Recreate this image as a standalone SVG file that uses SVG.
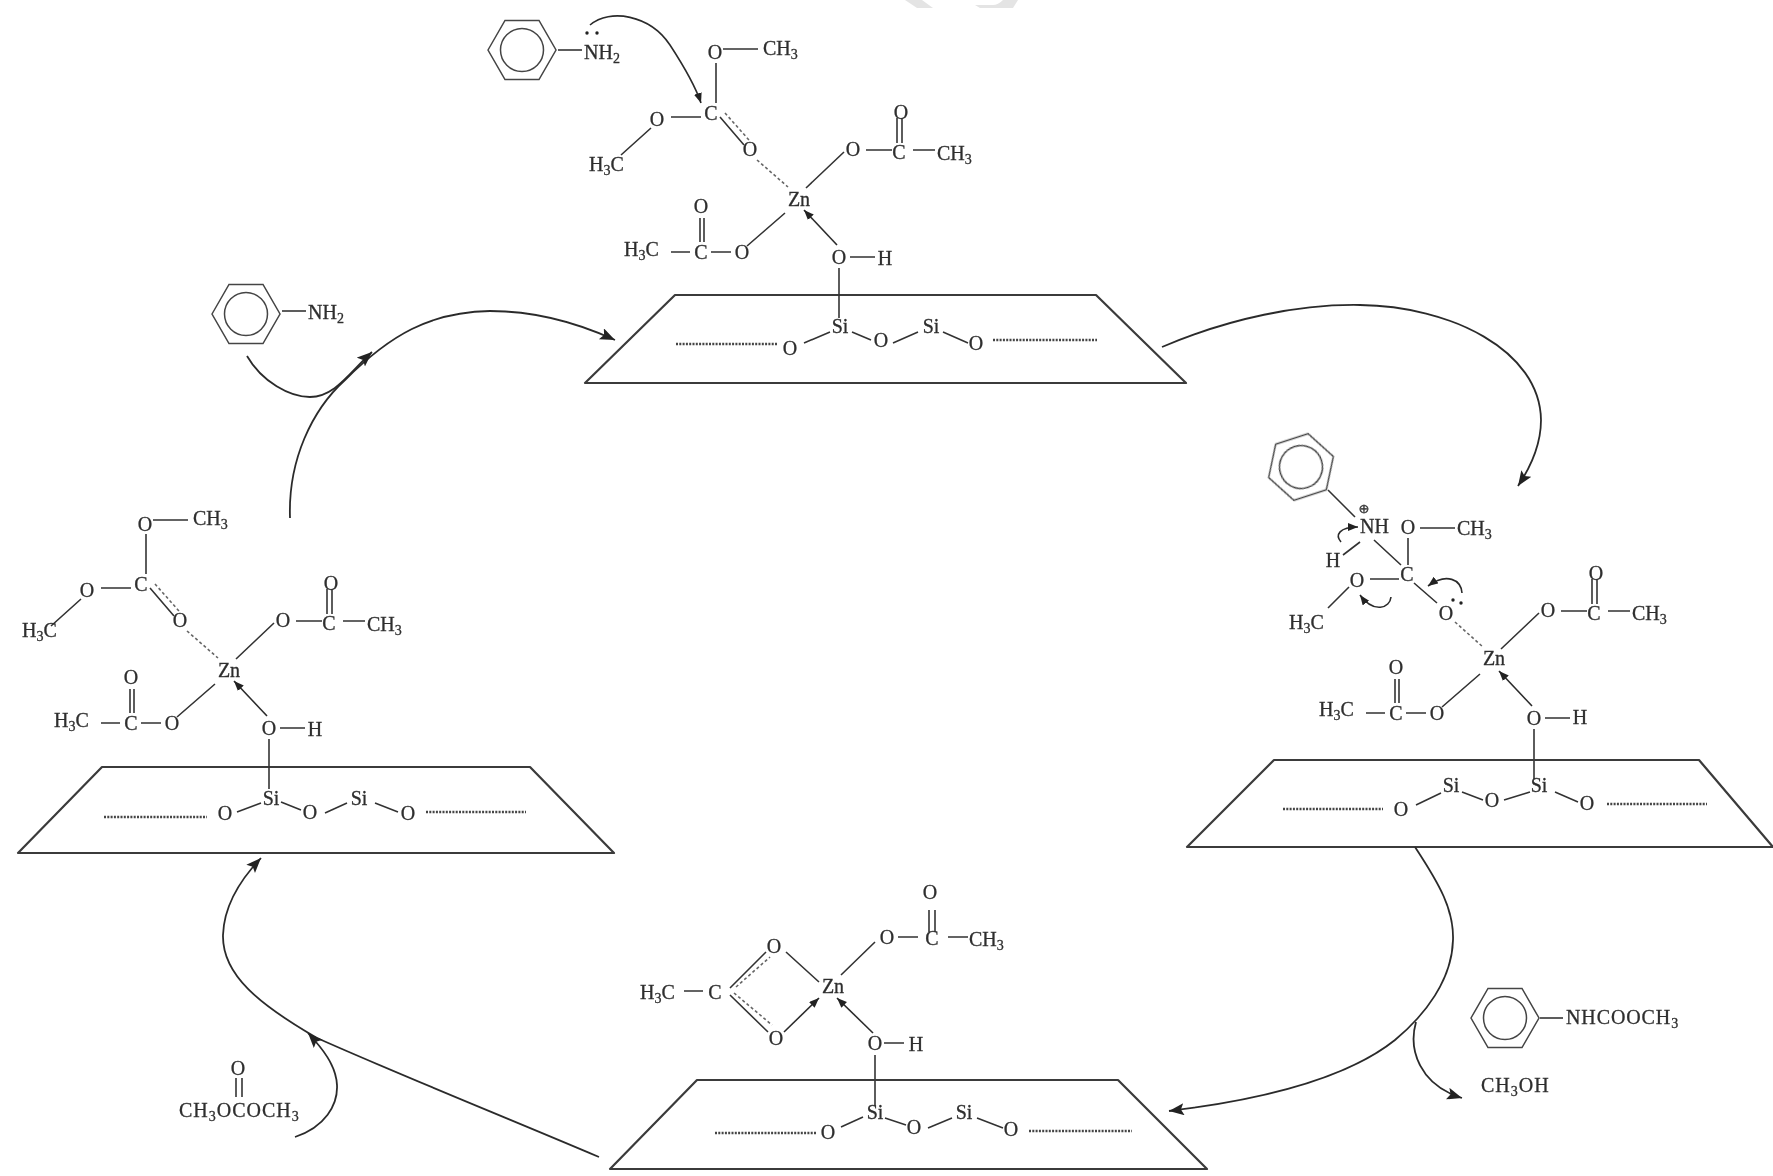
<svg xmlns="http://www.w3.org/2000/svg" width="1773" height="1176" viewBox="0 0 1773 1176">
<style>
text{font-family:"Liberation Serif","Times New Roman",serif;font-size:20px;fill:#2e2e2e;stroke:#2e2e2e;stroke-width:0.3;text-anchor:middle}
text.l{text-anchor:start}
.s{font-size:14px}
.b{fill:none;stroke:#333;stroke-width:1.6}
.d{fill:none;stroke:#666;stroke-width:1.6;stroke-dasharray:3 2.5}
.dots{fill:none;stroke:#444;stroke-width:2.5;stroke-dasharray:2 1.3}
.slab{fill:none;stroke:#3a3a3a;stroke-width:2.2;stroke-linejoin:round}
.ring{fill:none;stroke:#444;stroke-width:1.5}
.arrow{fill:none;stroke:#2c2c2c;stroke-width:1.8;marker-end:url(#big)}
.small{fill:none;stroke:#2c2c2c;stroke-width:1.6;marker-end:url(#tiny)}
</style>
<defs>
<filter id="soft" x="0" y="0" width="100%" height="100%" filterUnits="userSpaceOnUse"><feGaussianBlur stdDeviation="0.7"/></filter>
<marker id="big" markerUnits="userSpaceOnUse" markerWidth="18" markerHeight="14" refX="15" refY="6" orient="auto"><path d="M0 0L15 6L0 12L3 6Z" fill="#222"/></marker>
<marker id="tiny" markerUnits="userSpaceOnUse" markerWidth="12" markerHeight="10" refX="10" refY="4" orient="auto"><path d="M0 0L10 4L0 8Z" fill="#222"/></marker>
<path id="core" class="b" d="M7 -11L45 -47M67 -49H93M98 -81V-56M103 -81V-56M114 -49H136M-14 14L-52 47M-88 53H-68M-99 19V43M-95 19V43M-128 53H-109M51 58H76M40 69V119"/>
<path id="zna" class="small" d="M38 46L5 11"/>
<path id="carb" class="b" d="M-76 -150H-41M-83 -136V-96M-128 -82H-98M-148 -71L-178 -44M-79 -82L-55 -54"/>
<path id="carbd" class="d" d="M-74 -86L-50 -59M-42 -39L-11 -12"/>
<path id="hex" class="ring" d="M-34 0L-17 -29.500H17L34 0L17 29.500H-17Z"/>
<circle id="inner" class="ring" r="21.500"/>
</defs>
<rect width="1773" height="1176" fill="#fff"/>
<g filter="url(#soft)">
<g id="watermark" fill="#e4e4e4"><path d="M905 0L917 8H933L922 0Z"/><path d="M975 5L980 8H1013L1018 0H1003Q998 5 993 5Z"/></g>

<g id="node-top">
<g id="aniline-top" transform="translate(522 50)"><use href="#hex"/><use href="#inner"/></g>
<path class="b" d="M558 50H582"/>
<text class="l" x="584" y="59">NH<tspan class="s" dy="4">2</tspan></text>
<circle cx="587" cy="33" r="1.700" fill="#222"/><circle cx="597" cy="33" r="1.700" fill="#222"/>
<path class="small" d="M590 25C610 8 650 15 670 45C685 68 695 85 701 103"/>
<polygon class="slab" points="675,295 1096,295 1186,383 585,383"/>
<g transform="translate(799 199)">
<use href="#core"/><use href="#zna"/><use href="#carb"/><use href="#carbd"/>
<text x="0" y="7">Zn</text><text x="54" y="-43.500">O</text><text x="100" y="-40.500">C</text><text x="102" y="-80.500">O</text><text class="l" x="138" y="-39">CH<tspan class="s" dy="4">3</tspan></text>
<text x="-57" y="59.500">O</text><text x="-98" y="59.500">C</text><text x="-98" y="13.500">O</text><text class="l" x="-175" y="57">H<tspan class="s" dy="4">3</tspan><tspan dy="-4">C</tspan></text>
<text x="40" y="64.500">O</text><text x="86" y="66">H</text>
<text x="-84" y="-140.500">O</text><text class="l" x="-36" y="-144">CH<tspan class="s" dy="4">3</tspan></text><text x="-88" y="-79.500">C</text><text x="-142" y="-73.500">O</text><text class="l" x="-210" y="-28">H<tspan class="s" dy="4">3</tspan><tspan dy="-4">C</tspan></text><text x="-49" y="-43.500">O</text>
</g>
<path class="dots" d="M676 344H777M993 340H1097"/>
<path class="b" d="M804 343L830 332M852 332L871 340M893 343L918 332M943 332L968 343"/>
<text x="790" y="355">O</text><text x="840" y="333">Si</text><text x="881" y="346.500">O</text><text x="931" y="333">Si</text><text x="976" y="349.500">O</text>
</g>

<g id="node-right">
<g transform="translate(1301 467) rotate(-18)"><use href="#hex"/><use href="#inner"/></g>
<path class="b" d="M1328 490L1355 517M1420 528H1455M1408 538V565M1374 540L1401 565M1360 542L1343 555M1370 579H1399M1349 587L1328 608M1414 583L1437 603"/>
<text style="font-family:'DejaVu Sans',sans-serif;font-size:13px" x="1364" y="513">⊕</text>
<text class="l" x="1360" y="533">NH</text><text x="1408" y="534">O</text><text class="l" x="1457" y="535">CH<tspan class="s" dy="4">3</tspan></text>
<text x="1333" y="567">H</text><text x="1407" y="580.500">C</text><text x="1357" y="586.500">O</text><text class="l" x="1289" y="629">H<tspan class="s" dy="4">3</tspan><tspan dy="-4">C</tspan></text><text x="1446" y="619.500">O</text>
<circle cx="1453" cy="600" r="1.700" fill="#222"/><circle cx="1461" cy="603" r="1.700" fill="#222"/>
<path class="d" d="M1455 622L1483 647"/>
<path class="small" d="M1341 542C1335 535 1339 527 1358 527"/>
<path class="small" d="M1462 593C1461 580 1447 572 1428 586"/>
<path class="small" d="M1391 597C1390 608 1374 614 1360 595"/>
<g transform="translate(1494 660)">
<use href="#core"/><use href="#zna"/>
<text x="0" y="5">Zn</text><text x="54" y="-43.500">O</text><text x="100" y="-40.500">C</text><text x="102" y="-80.500">O</text><text class="l" x="138" y="-40">CH<tspan class="s" dy="4">3</tspan></text>
<text x="-57" y="59.500">O</text><text x="-98" y="59.500">C</text><text x="-98" y="13.500">O</text><text class="l" x="-175" y="56">H<tspan class="s" dy="4">3</tspan><tspan dy="-4">C</tspan></text>
<text x="40" y="64.500">O</text><text x="86" y="64">H</text>
</g>
<polygon class="slab" points="1274,760 1699,760 1773,847 1187,847"/>
<path class="dots" d="M1283 809H1383M1607 804H1707"/>
<path class="b" d="M1416 805L1441 793M1462 792L1483 800M1504 800L1530 792M1555 792L1578 802"/>
<text x="1401" y="815.500">O</text><text x="1451" y="792">Si</text><text x="1492" y="806.500">O</text><text x="1539" y="792">Si</text><text x="1587" y="809.500">O</text>
</g>

<g id="node-bottom">
<path class="b" d="M841 975L875 942M898 937H918M929 910V932M935 910V932M948 937H968M684 991H703M730 988L766 952M730 995L768 1032M786 952L819 982M884 1043H904M875 1055V1106"/>
<path class="d" d="M736 987L770 957M734 993L772 1025"/>
<path class="small" d="M784 1032L819 998"/><path class="small" d="M873 1033L837 998"/>
<text x="833" y="993">Zn</text><text x="887" y="943.500">O</text><text x="932" y="944.500">C</text><text x="930" y="898.500">O</text><text class="l" x="969" y="946">CH<tspan class="s" dy="4">3</tspan></text>
<text class="l" x="640" y="999">H<tspan class="s" dy="4">3</tspan><tspan dy="-4">C</tspan></text><text x="715" y="998.500">C</text><text x="774" y="952.500">O</text><text x="776" y="1044.500">O</text>
<text x="875" y="1049.500">O</text><text x="916" y="1051">H</text>
<polygon class="slab" points="697,1080 1118,1080 1207,1169 610,1169"/>
<path class="dots" d="M715 1133H817M1029 1131H1132"/>
<path class="b" d="M841 1127L863 1117M885 1118L906 1125M928 1128L952 1118M977 1118L1003 1128"/>
<text x="828" y="1138.500">O</text><text x="875" y="1119">Si</text><text x="914" y="1133.500">O</text><text x="964" y="1119">Si</text><text x="1011" y="1135.500">O</text>
</g>

<g id="node-left">
<polygon class="slab" points="102,767 530,767 614,853 18,853"/>
<g transform="translate(229 670)">
<use href="#core"/><use href="#zna"/><use href="#carb"/><use href="#carbd"/>
<text x="0" y="7">Zn</text><text x="54" y="-43.500">O</text><text x="100" y="-40.500">C</text><text x="102" y="-80.500">O</text><text class="l" x="138" y="-39">CH<tspan class="s" dy="4">3</tspan></text>
<text x="-57" y="59.500">O</text><text x="-98" y="59.500">C</text><text x="-98" y="13.500">O</text><text class="l" x="-175" y="57">H<tspan class="s" dy="4">3</tspan><tspan dy="-4">C</tspan></text>
<text x="40" y="64.500">O</text><text x="86" y="66">H</text>
<text x="-84" y="-139.500">O</text><text class="l" x="-36" y="-145">CH<tspan class="s" dy="4">3</tspan></text><text x="-88" y="-79.500">C</text><text x="-142" y="-73.500">O</text><text class="l" x="-207" y="-33">H<tspan class="s" dy="4">3</tspan><tspan dy="-4">C</tspan></text><text x="-49" y="-43.500">O</text>
</g>
<path class="dots" d="M104 817H207M426 812H526"/>
<path class="b" d="M237 812L261 803M281 802L301 810M325 813L347 803M375 803L398 812"/>
<text x="225" y="819.500">O</text><text x="271" y="805">Si</text><text x="310" y="818.500">O</text><text x="359" y="805">Si</text><text x="408" y="819.500">O</text>
</g>

<g id="node-aniline">
<g transform="translate(246 314)"><use href="#hex"/><use href="#inner"/></g>
<path class="b" d="M282 311H306"/>
<text class="l" x="308" y="319">NH<tspan class="s" dy="4">2</tspan></text>
</g>

<g id="node-carbamate">
<g transform="translate(1505 1018)"><use href="#hex"/><use href="#inner"/></g>
<path class="b" d="M1540 1018H1563"/>
<text class="l" x="1566" y="1024" letter-spacing="0.900">NHCOOCH<tspan class="s" dy="4">3</tspan></text>
</g>

<g id="node-methanol"><text class="l" x="1481" y="1092" letter-spacing="1">CH<tspan class="s" dy="4">3</tspan><tspan dy="-4">OH</tspan></text></g>

<g id="node-dmc">
<path class="b" d="M236 1078V1097M242 1078V1097"/>
<text x="238" y="1074.500">O</text>
<text class="l" x="179" y="1117" letter-spacing="1">CH<tspan class="s" dy="4">3</tspan><tspan dy="-4">OCOCH</tspan><tspan class="s" dy="4">3</tspan></text>
</g>

<g id="connectors">
<path class="arrow" d="M290 518C288 460 312 410 345 380C390 335 430 312 490 311C540 311 580 324 615 340"/>
<path class="arrow" d="M247 356C262 382 290 397 310 397C335 397 350 372 372 352"/>
<path class="arrow" d="M1162 347C1230 318 1300 304 1360 305C1450 306 1540 350 1541 420C1541 445 1530 468 1518 486"/>
<path class="arrow" d="M1415 847C1440 885 1454 910 1453 940C1452 980 1425 1015 1395 1040C1345 1080 1260 1100 1169 1111"/>
<path class="arrow" d="M1416 1022C1408 1050 1420 1085 1462 1098"/>
<path class="arrow" d="M599 1157C500 1115 400 1075 317 1038C260 1005 222 975 223 935C224 905 240 880 261 858"/>
<path class="arrow" d="M295 1137C325 1127 338 1105 337 1085C336 1065 322 1048 308 1033"/>
</g>
</g>
</svg>
